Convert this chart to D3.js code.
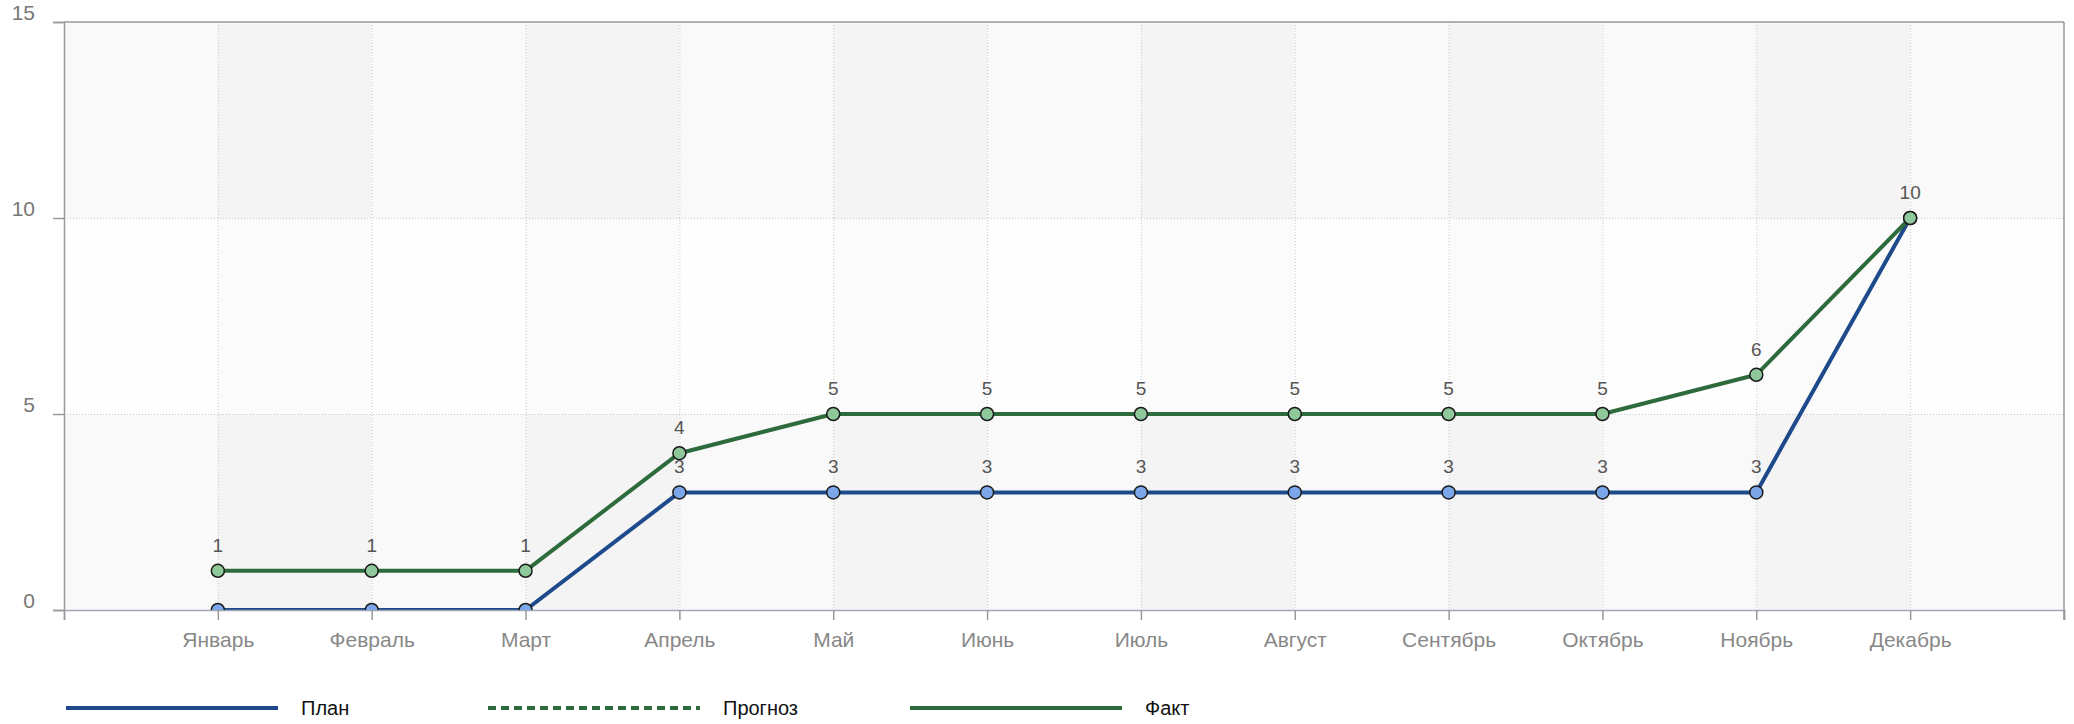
<!DOCTYPE html>
<html><head><meta charset="utf-8">
<script src="https://cdn.jsdelivr.net/npm/d3@7"></script>
<style>body{margin:0;background:#fff}svg{display:block}</style>
</head><body>
<svg id="c" width="2074" height="724"></svg>
<script>
const months = ["Январь","Февраль","Март","Апрель","Май","Июнь","Июль","Август","Сентябрь","Октябрь","Ноябрь","Декабрь"];
const planValues = [0,0,0,3,3,3,3,3,3,3,3,10];
const factValues = [1,1,1,4,5,5,5,5,5,5,6,10];
const forecastValues = [];
const yTicks = [0,5,10,15];
const legendNames = ["План","Прогноз","Факт"];

const svg = d3.select("#c");
const L = 64, R = 2064, T = 22, B = 610;
const slots = d3.range(0, 14);
const xs = d3.scaleLinear().domain([0, 13]).range([L, R]);
const x = (i) => xs(i + 1);
const y = d3.scaleLinear().domain([0, 15]).range([B, T]);
const FONT = "'Liberation Sans', Arial, sans-serif";

// background checkerboard
const bg = svg.append("g");
for (let r = 0; r < 3; r++) {
  for (let c = 0; c < 13; c++) {
    const odd = c % 2 === 1;
    let col;
    if (r === 1) col = odd ? "#fbfbfb" : "#fefefe";
    else col = odd ? "#f4f4f4" : "#f9f9f9";
    bg.append("rect").attr("x", xs(c)).attr("y", y(yTicks[r+1]))
      .attr("width", xs(c+1)-xs(c)).attr("height", y(yTicks[r]) - y(yTicks[r+1]))
      .attr("fill", col);
  }
}

// grid
const grid = svg.append("g").attr("stroke", "#c8c8c8").attr("stroke-dasharray", "1,2").attr("stroke-width", 1);
months.forEach((m, i) => grid.append("line").attr("x1", x(i)+0.5).attr("x2", x(i)+0.5).attr("y1", T).attr("y2", B));
yTicks.slice(1, 3).forEach(v => grid.append("line").attr("x1", L).attr("x2", R).attr("y1", y(v)+0.5).attr("y2", y(v)+0.5));

// clip
svg.append("clipPath").attr("id", "clip").append("rect").attr("x", L).attr("y", T-20).attr("width", R-L).attr("height", B-T+20);

const line = d3.line().x((d, i) => x(i)).y(d => y(d));
const plot = svg.append("g").attr("clip-path", "url(#clip)");

function series(vals, stroke) {
  plot.append("path").datum(vals).attr("d", line).attr("fill", "none")
    .attr("stroke", stroke).attr("stroke-width", 4).attr("stroke-linejoin", "round");
}
series(planValues, "#1e4a8c");
series(factValues, "#2e6b3c");

// axes
const axisG = svg.append("g");
const yAxis = d3.axisLeft(y).tickValues(yTicks).tickSize(11).tickPadding(18);
const ya = axisG.append("g").attr("transform", `translate(${L},0)`).call(yAxis);
ya.select(".domain").attr("stroke", "#999").attr("stroke-width", 1.5);
ya.selectAll(".tick line").attr("stroke", "#999").attr("stroke-width", 1.5);
ya.selectAll(".tick text").attr("fill", "#777").style("font-family", FONT).style("font-size", "21px").attr("dy", "-0.1em");

const xAxis = d3.axisBottom(xs).tickValues(slots).tickSize(10).tickPadding(12).tickFormat(i => (i >= 1 && i <= 12) ? months[i-1] : "");
const xa = axisG.append("g").attr("transform", `translate(0,${B})`).call(xAxis);
xa.select(".domain").attr("stroke", "#a0a8b8").attr("stroke-width", 1.5);
xa.selectAll(".tick line").attr("stroke", "#999").attr("stroke-width", 1.5);
xa.selectAll(".tick text").attr("fill", "#888").style("font-family", FONT).style("font-size", "21px");

// top / right border
svg.append("line").attr("x1", L).attr("x2", R).attr("y1", T).attr("y2", T).attr("stroke", "#999").attr("stroke-width", 1.5);
svg.append("line").attr("x1", R).attr("x2", R).attr("y1", T).attr("y2", B+10).attr("stroke", "#999").attr("stroke-width", 1.5);

// points
const pts = svg.append("g").attr("clip-path", "url(#clip)");
function points(vals, fill) {
  pts.selectAll(null).data(vals).enter().append("circle")
    .attr("cx", (d, i) => x(i)).attr("cy", d => y(d)).attr("r", 6.5)
    .attr("fill", fill).attr("stroke", "#1a1a1a").attr("stroke-width", 1.5);
}
points(planValues, "#7ba7ea");
points(factValues, "#8fc89a");

// labels
const lab = svg.append("g").style("font-family", FONT).style("font-size", "19px").attr("fill", "#555").attr("text-anchor", "middle");
function labels(vals) {
  vals.forEach((v, i) => { if (v > 0) lab.append("text").attr("x", x(i)).attr("y", y(v) - 19).text(v); });
}
labels(planValues);
labels(factValues.map((v, i) => v === planValues[i] ? 0 : v));

// legend
const legColors = ["#1e4a8c", "#2e6b3c", "#2e6b3c"];
const legDash = [null, "8,5", null];
const lg = svg.append("g");
legendNames.forEach((n, k) => {
  const x0 = 66 + k * 422;
  lg.append("line").attr("x1", x0).attr("x2", x0 + 212).attr("y1", 708).attr("y2", 708)
    .attr("stroke", legColors[k]).attr("stroke-width", 4).attr("stroke-dasharray", legDash[k]);
  lg.append("text").attr("x", x0 + 235).attr("y", 715).text(n)
    .style("font-family", FONT).style("font-size", "20px").attr("fill", "#111");
});
</script>
</body></html>
